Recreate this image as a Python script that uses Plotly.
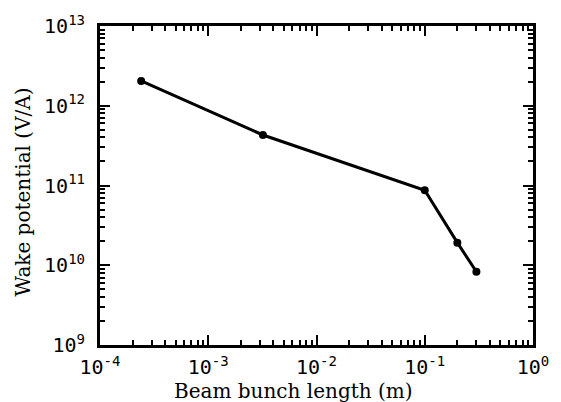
import plotly.graph_objects as go

bunch_length_m = [2.4e-4, 3.2e-3, 0.10, 0.20, 0.30]
wake_potential_VA = [2.05e12, 4.3e11, 8.7e10, 1.92e10, 8.3e9]

x_tickvals = [1e-4, 1e-3, 1e-2, 1e-1, 1e0]
x_ticktext = ["10<sup>-4</sup>", "10<sup>-3</sup>", "10<sup>-2</sup>", "10<sup>-1</sup>", "10<sup>0</sup>"]
y_tickvals = [1e9, 1e10, 1e11, 1e12, 1e13]
y_ticktext = ["10<sup>9</sup>", "10<sup>10</sup>", "10<sup>11</sup>", "10<sup>12</sup>", "10<sup>13</sup>"]

x_minor = [d * 10.0 ** e for e in range(-4, 0) for d in range(2, 10)]
y_minor = [d * 10.0 ** e for e in range(9, 13) for d in range(2, 10)]

fig = go.Figure()
fig.add_trace(go.Scatter(
    x=bunch_length_m, y=wake_potential_VA,
    mode="lines+markers",
    line=dict(color="black", width=3),
    marker=dict(color="black", size=8),
    showlegend=False,
))

axis_common = dict(
    type="log",
    showline=True, linecolor="black", linewidth=3,
    mirror="ticks",
    ticks="inside", ticklen=10, tickwidth=2, tickcolor="black",
    showgrid=False, zeroline=False,
    tickfont=dict(family="DejaVu Sans Mono", size=20, color="black"),
)

fig.update_xaxes(
    range=[-4, 0],
    tickvals=x_tickvals, ticktext=x_ticktext,
    ticklabelstandoff=2,
    minor=dict(tickvals=x_minor, ticks="inside", ticklen=5, tickwidth=2, tickcolor="black", showgrid=False),
    **axis_common,
)
fig.update_yaxes(
    range=[9, 13],
    tickvals=y_tickvals, ticktext=y_ticktext,
    ticklabelstandoff=8,
    minor=dict(tickvals=y_minor, ticks="inside", ticklen=5, tickwidth=2, tickcolor="black", showgrid=False),
    **axis_common,
)

title_font = dict(family="DejaVu Serif", size=20, color="black")
fig.add_annotation(text="Beam bunch length (m)", xref="paper", yref="paper",
                   x=(294 - 100) / 435, y=0, yshift=-46, showarrow=False, font=title_font,
                   xanchor="center", yanchor="middle")
fig.add_annotation(text="Wake potential (V/A)", xref="paper", yref="paper",
                   x=0, y=(345 - 191) / 322, xshift=-77, showarrow=False, font=title_font,
                   textangle=-90, xanchor="center", yanchor="middle")

fig.update_layout(
    width=561, height=402,
    margin=dict(l=100, r=26, t=23, b=57),
    plot_bgcolor="white", paper_bgcolor="white",
)

fig.write_html("out.html", config={"displayModeBar": False},
               post_script="document.body.style.margin='0';")
